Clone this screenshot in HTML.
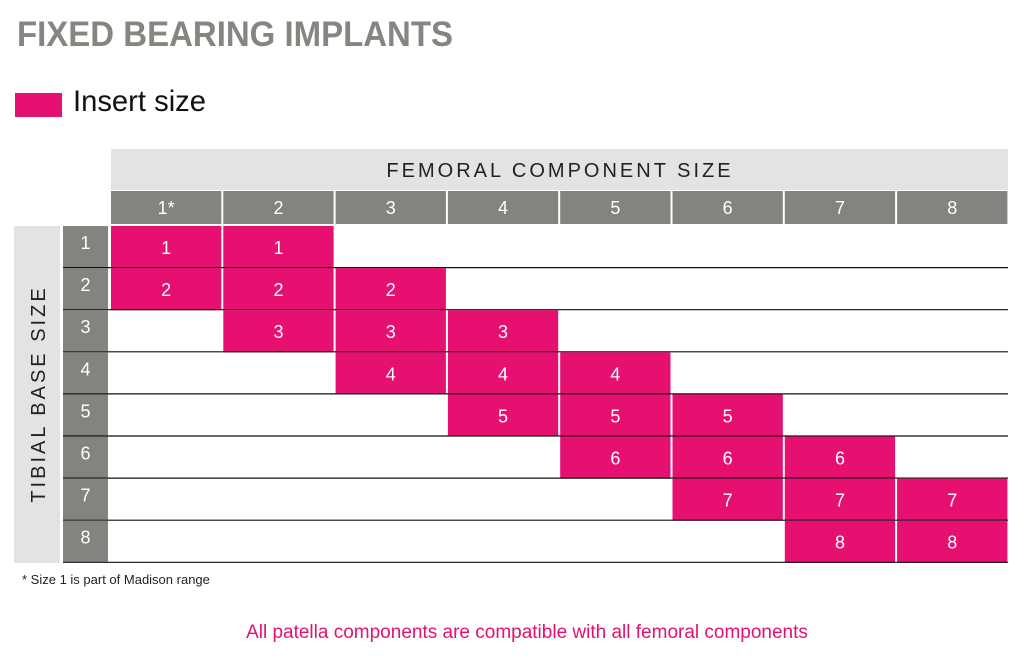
<!DOCTYPE html>
<html><head><meta charset="utf-8"><style>
html,body{margin:0;padding:0;background:#fff;}
svg{display:block;font-family:"Liberation Sans",sans-serif;}
</style></head><body>
<svg id="chart" width="1024" height="660" viewBox="0 0 1024 660">
<text x="17" y="46" font-size="35" font-weight="bold" fill="#868580" textLength="436" lengthAdjust="spacingAndGlyphs">FIXED BEARING IMPLANTS</text>
<rect x="15" y="93" width="47" height="24" fill="#e5106f"/>
<text x="73" y="111" font-size="30" fill="#111" textLength="133" lengthAdjust="spacingAndGlyphs">Insert size</text>
<rect x="111" y="149" width="897" height="41" fill="#e4e3e2"/>
<text x="560" y="177" font-size="20" fill="#222" text-anchor="middle" letter-spacing="3">FEMORAL COMPONENT SIZE</text>
<rect x="14" y="226" width="46" height="337" fill="#e4e3e2"/>
<text transform="translate(45,394) rotate(-90)" font-size="20" fill="#222" text-anchor="middle" letter-spacing="3">TIBIAL BASE SIZE</text>
<g id="grid"></g>
<text x="22" y="584" font-size="13" fill="#222">* Size 1 is part of Madison range</text>
<text x="527" y="638" font-size="19" fill="#e5106f" text-anchor="middle">All patella components are compatible with all femoral components</text>
</svg>
<script>
const colLabels = ["1*","2","3","4","5","6","7","8"];
const rowLabels = ["1","2","3","4","5","6","7","8"];
// compatible femoral column indexes (1-based) per tibial row; value = insert size
const rowCols = [[1,2],[1,2,3],[2,3,4],[3,4,5],[4,5,6],[5,6,7],[6,7,8],[7,8]];
const insertSizes = [1,2,3,4,5,6,7,8];

const NS = "http://www.w3.org/2000/svg";
const g = document.getElementById("grid");
const x0 = 111, colW = 112.3, y0 = 226, rowH = 42.1;
const colX = i => x0 + i * colW;
const rowY = j => y0 + j * rowH;
function mk(tag, attrs){ const e=document.createElementNS(NS,tag); for(const k in attrs) e.setAttribute(k,attrs[k]); g.appendChild(e); return e; }

colLabels.forEach((l,i)=>{
  const r = mk("rect",{x:colX(i),y:191,width:colW-2,height:33,fill:"#858380"});
  
  
  const t = mk("text",{x:colX(i)+(colW-2)/2,y:214,"font-size":18,fill:"#fff","text-anchor":"middle"});
  t.textContent = l;
  
  
});
rowLabels.forEach((l,j)=>{
  const r = mk("rect",{x:63,y:rowY(j),width:45,height:rowH-1,fill:"#858380"});
  
  
  const t = mk("text",{x:85.5,y:rowY(j)+23,"font-size":18,fill:"#fff","text-anchor":"middle"});
  t.textContent = l;
  
  
  rowCols[j].forEach(c=>{
    const cell = mk("rect",{x:colX(c-1),y:rowY(j),width:colW-2,height:rowH,fill:"#e5106f"});
    
    
    const ct = mk("text",{x:colX(c-1)+(colW-2)/2,y:rowY(j)+28,"font-size":18,fill:"#fff","text-anchor":"middle"});
    ct.textContent = insertSizes[j];
    
    
  });
  const ln = mk("line",{x1:63,x2:1008,y1:rowY(j)+rowH-0.5,y2:rowY(j)+rowH-0.5,stroke:"#111","stroke-width":1.2});
  
  
});
</script>
</body></html>
